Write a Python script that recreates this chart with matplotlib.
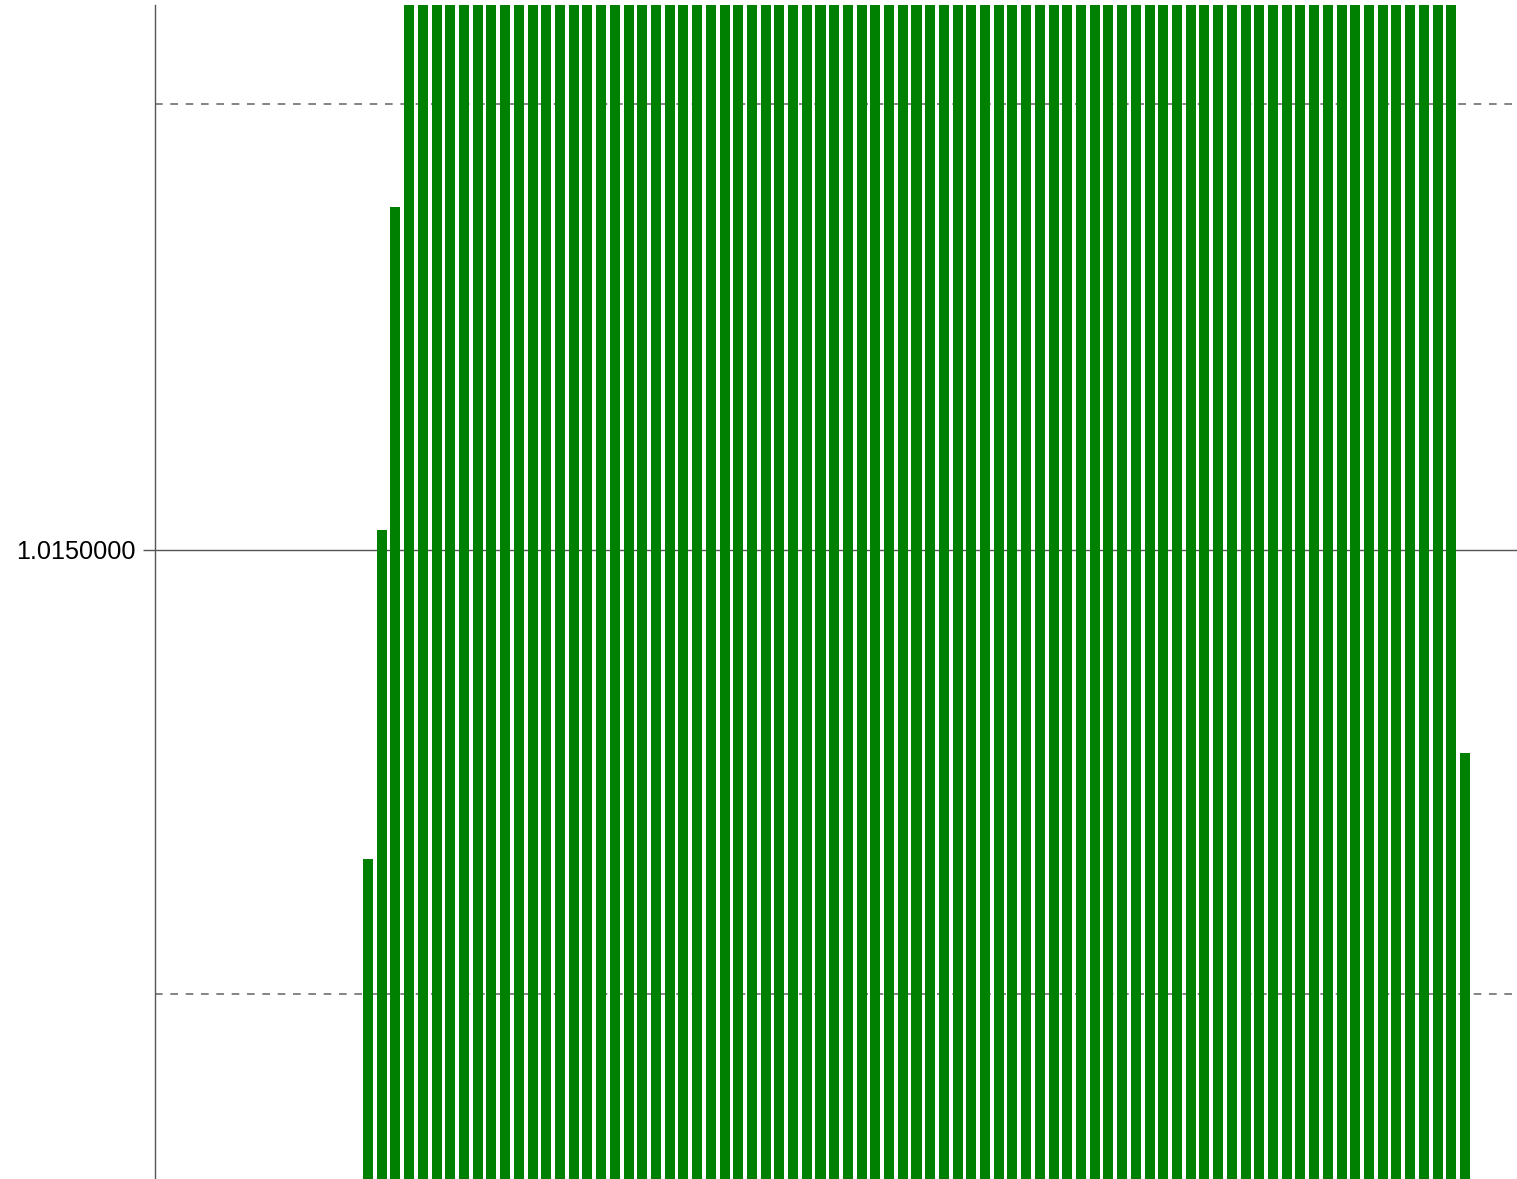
import matplotlib.pyplot as plt
import numpy as np

plt.rcParams['font.family'] = ['Liberation Sans', 'DejaVu Sans']

# bar values (most bars run past the top of the plot)
first_values = [1.01327, 1.01511, 1.01692]
middle_value = 1.0200
n_middle = 77
last_values = [1.01386]
values = first_values + [middle_value] * n_middle + last_values

y_ticks = [1.015]
grid_levels = [1.01251, 1.0175]
y_min, y_max = 1.011474, 1.018055

fig = plt.figure(figsize=(15.17, 11.79), dpi=100)
ax = fig.add_axes([155 / 1517, 0, 1 - 155 / 1517, 1 - 5 / 1179])

x = np.arange(len(values))
ax.bar(x, values, width=0.73, color='#008000', zorder=2)

for g in grid_levels:
    ax.axhline(g, color='#707070', lw=1.2, ls=(0, (4.6, 4.6)), zorder=1)
for t in y_ticks:
    ax.axhline(t, color='#555555', lw=1.0, zorder=1)

ax.set_ylim(y_min, y_max)
ax.set_xlim(-15.53, 83.79)
ax.set_yticks(y_ticks)
ax.set_yticklabels([f'{t:.7f}' for t in y_ticks], fontsize=18.2)
ax.tick_params(axis='y', length=8.6, width=1, color='#555555', pad=5)
ax.set_xticks([])

for side in ['top', 'right', 'bottom']:
    ax.spines[side].set_visible(False)
ax.spines['left'].set_color('#555555')
ax.spines['left'].set_linewidth(1.0)

fig.savefig('out.png', dpi=100)
